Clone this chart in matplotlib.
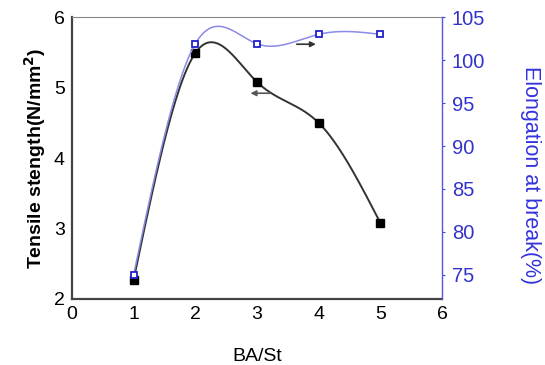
import matplotlib
matplotlib.use("Agg")
import matplotlib.pyplot as plt
import numpy as np

plt.rcParams['font.family'] = ['Liberation Sans', 'DejaVu Sans']

ba_st = [1, 2, 3, 4, 5]
tensile = [2.27, 5.49, 5.08, 4.50, 3.08]
elongation = [75.0, 101.9, 101.9, 103.0, 103.0]


def natural_spline(x, y, n=200):
    # plain natural cubic spline, just for the smooth connecting line
    x = np.asarray(x, float)
    y = np.asarray(y, float)
    k = len(x)
    h = np.diff(x)
    A = np.zeros((k, k))
    b = np.zeros(k)
    A[0, 0] = A[-1, -1] = 1
    for i in range(1, k - 1):
        A[i, i - 1] = h[i - 1]
        A[i, i] = 2 * (h[i - 1] + h[i])
        A[i, i + 1] = h[i]
        b[i] = 6 * ((y[i + 1] - y[i]) / h[i] - (y[i] - y[i - 1]) / h[i - 1])
    m = np.linalg.solve(A, b)
    xs = np.linspace(x[0], x[-1], n)
    ys = np.empty_like(xs)
    for j, xv in enumerate(xs):
        i = min(np.searchsorted(x, xv, side='right') - 1, k - 2)
        t = xv - x[i]
        hi = h[i]
        a = (m[i + 1] - m[i]) / (6 * hi)
        bb = m[i] / 2
        c = (y[i + 1] - y[i]) / hi - hi * (2 * m[i] + m[i + 1]) / 6
        ys[j] = y[i] + c * t + bb * t ** 2 + a * t ** 3
    return xs, ys


fig = plt.figure(figsize=(5.45, 3.65), dpi=100)
ax = fig.add_axes([0.132, 0.181, 0.679, 0.772])
ax2 = ax.twinx()

xs, ys = natural_spline(ba_st, tensile)
ax.plot(xs, ys, color='#333333', lw=1.4)
ax.plot(ba_st, tensile, 's', color='black', ms=6, ls='none')

xs2, ys2 = natural_spline(ba_st, elongation)
ax2.plot(xs2, ys2, color='#8a8ae8', lw=1.1)
ax2.plot(ba_st, elongation, 's', mfc='white', mec='#2222cc', mew=1.3, ms=5, ls='none')

ax.set_xlim(0, 6)
ax.set_ylim(2, 6)
ax2.set_ylim(72.2, 105)
ax.set_xticks([0, 1, 2, 3, 4, 5, 6])
ax.set_yticks([2, 3, 4, 5, 6])
ax2.set_yticks([75, 80, 85, 90, 95, 100, 105])

ax.tick_params(axis='both', length=0, labelsize=14, pad=5)
ax2.tick_params(axis='y', length=2, color='#4444dd', labelsize=14.5, labelcolor='#3333cc', pad=5)

for name in ['left', 'bottom']:
    ax.spines[name].set_color('#444444')
    ax.spines[name].set_linewidth(1.6)
ax.spines['top'].set_color('#888888')
ax.spines['top'].set_linewidth(0.8)
ax2.spines['top'].set_visible(False)
ax2.spines['left'].set_visible(False)
ax2.spines['bottom'].set_visible(False)
ax2.spines['right'].set_color('#5555dd')
ax2.spines['right'].set_linewidth(1.0)
ax.spines['right'].set_visible(False)

ax.set_ylabel('Tensile stength(N/mm$^\\mathbf{2}$)', fontsize=14, fontweight='bold', labelpad=4)
ax2.set_ylabel('Elongation at break(%)', fontsize=15.5, color='#3333dd', rotation=270, va='center')
ax2.yaxis.set_label_coords(1.24, 0.44)
ax.set_xlabel('BA/St', fontsize=14, labelpad=18)

# arrows pointing to the axis each curve belongs to
ax.annotate('', xy=(2.85, 4.92), xytext=(3.25, 4.92),
            arrowprops=dict(arrowstyle='-|>', color='#555555', lw=1.2, mutation_scale=8))
ax2.annotate('', xy=(4.0, 101.85), xytext=(3.6, 101.85),
             arrowprops=dict(arrowstyle='-|>', color='#333333', lw=1.2, mutation_scale=8))

fig.savefig('out.png', dpi=100)
